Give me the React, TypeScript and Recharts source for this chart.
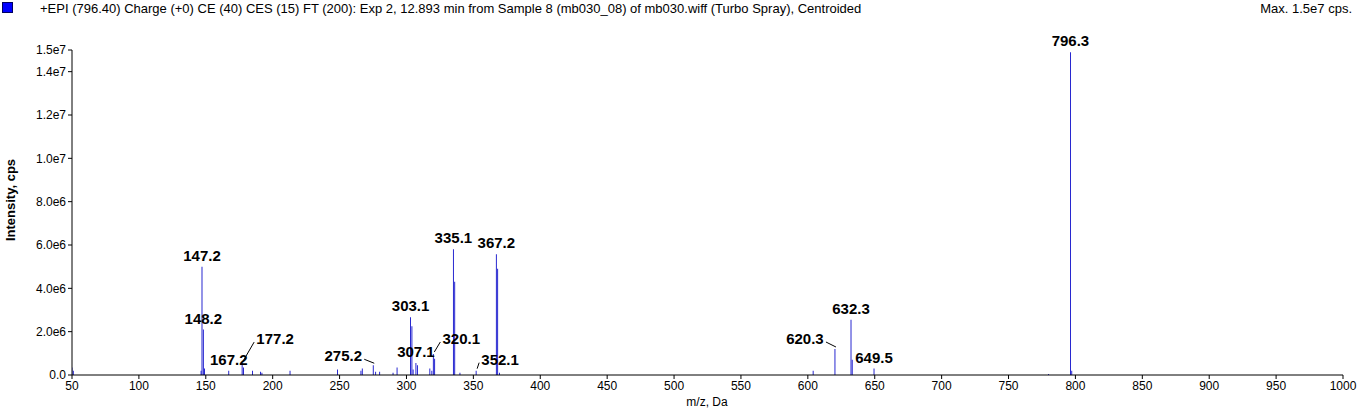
import React from 'react';
import { BarChart, Bar, XAxis, YAxis, LabelList } from 'recharts';

// m/z positions and intensities
const mzValues = [
  50, 51, 146.5, 147.2, 148.2, 149.1, 167.2, 177.2, 178.2, 185, 191, 192, 213,
  248.5, 266, 267, 275.2, 277, 280, 290, 293, 303.1, 304.1, 305, 307.1, 308.2,
  317.5, 319, 320.1, 321.1, 335.1, 336.1, 340, 352.1, 367.2, 368.2, 369.5,
  604, 620.3, 632.3, 633.2, 649.5, 780, 796.3, 797.3,
];
const intensities = [
  0.35e6, 0.2e6, 0.2e6, 5.0e6, 2.1e6, 0.3e6, 0.2e6, 0.55e6, 0.35e6, 0.2e6, 0.15e6, 0.1e6, 0.2e6,
  0.25e6, 0.2e6, 0.3e6, 0.45e6, 0.15e6, 0.15e6, 0.1e6, 0.35e6, 2.67e6, 2.25e6, 0.25e6, 0.55e6, 0.45e6,
  0.3e6, 0.2e6, 0.97e6, 0.75e6, 5.8e6, 4.3e6, 0.1e6, 0.2e6, 5.57e6, 4.9e6, 0.1e6,
  0.2e6, 1.2e6, 2.55e6, 0.7e6, 0.3e6, 0.05e6, 14.9e6, 0.2e6,
];
const peakLabels = ['147.2', '148.2', '167.2', '177.2', '275.2', '303.1', '307.1', '320.1', '335.1', '352.1', '367.2', '620.3', '632.3', '649.5', '796.3'];
const xTicks = [50, 100, 150, 200, 250, 300, 350, 400, 450, 500, 550, 600, 650, 700, 750, 800, 850, 900, 950, 1000];
const yTicks = [0, 2e6, 4e6, 6e6, 8e6, 1e7, 1.2e7, 1.4e7, 1.5e7];

const data = mzValues.map((mz, i) => {
  const txt = mz.toFixed(1);
  return { mz, intensity: intensities[i], label: peakLabels.includes(txt) ? txt : '' };
});

// label offset from the peak top (label centre), and whether a leader line is drawn
const labelOffsets: Record<string, { dx: number; dy: number; leader?: boolean }> = {
  '177.2': { dx: 33, dy: -24, leader: true },
  '275.2': { dx: -30, dy: -9, leader: true },
  '320.1': { dx: 28, dy: -15, leader: true },
  '352.1': { dx: 24, dy: -11, leader: true },
  '620.3': { dx: -30, dy: -10, leader: true },
};

const fmtY = (v: number) => (v === 0 ? '0.0' : v.toExponential(1).replace('+', ''));

const renderLabel = (props: any) => {
  const { x, y, width, value } = props;
  if (!value) return null;
  const px = x + width / 2;
  const off = labelOffsets[value] || { dx: 0, dy: -11 };
  const cx = px + off.dx;
  const cy = y + off.dy;
  let leader = null;
  if (off.leader) {
    const ex = off.dx > 0 ? cx - 21 : cx + 21;
    leader = <line x1={px + 1} y1={y - 2} x2={ex} y2={cy + 3} stroke="#000" strokeWidth={1} />;
  }
  return (
    <g>
      {leader}
      <text x={cx} y={cy + 5} textAnchor="middle" fontSize={15} fontWeight="bold" fill="#000">
        {value}
      </text>
    </g>
  );
};

const App = () => {
  return (
    <div style={{ position: 'absolute', left: 0, top: 0, width: 1360, height: 412, background: '#fff', fontFamily: '"Liberation Sans", Arial, sans-serif' }}>
      <div style={{ position: 'absolute', left: 2, top: 2, width: 9, height: 9, background: '#0000ff', border: '1px solid #000060' }} />
      <div style={{ position: 'absolute', left: 40, top: 1, fontSize: 13, color: '#000' }}>
        +EPI (796.40) Charge (+0) CE (40) CES (15) FT (200): Exp 2, 12.893 min from Sample 8 (mb030_08) of mb030.wiff (Turbo Spray), Centroided
      </div>
      <div style={{ position: 'absolute', right: 8, top: 1, fontSize: 13, color: '#000' }}>Max. 1.5e7 cps.</div>
      <div style={{ position: 'absolute', left: 10, top: 200, fontSize: 13, fontWeight: 'bold', transform: 'translate(-50%, -50%) rotate(-90deg)', whiteSpace: 'nowrap' }}>
        Intensity, cps
      </div>
      <div style={{ position: 'absolute', left: 707, top: 395, fontSize: 12, transform: 'translateX(-50%)' }}>m/z, Da</div>
      <BarChart width={1360} height={412} data={data} margin={{ top: 50, right: 17, left: 0, bottom: 0 }} style={{ position: 'absolute', left: 0, top: 0 }}>
        <XAxis
          dataKey="mz"
          type="number"
          domain={[50, 1000]}
          ticks={xTicks}
          height={37}
          tick={{ fill: '#000', fontSize: 12 }}
          tickSize={4}
          stroke="#000"
          interval={0}
          allowDataOverflow
        />
        <YAxis
          type="number"
          domain={[0, 1.5e7]}
          ticks={yTicks}
          tickFormatter={fmtY}
          width={72}
          tick={{ fill: '#000', fontSize: 12 }}
          tickSize={4}
          stroke="#000"
          interval={0}
        />
        <Bar dataKey="intensity" fill="#0000c8" barSize={2} isAnimationActive={false}>
          <LabelList dataKey="label" content={renderLabel} />
        </Bar>
      </BarChart>
    </div>
  );
};

export default App;
